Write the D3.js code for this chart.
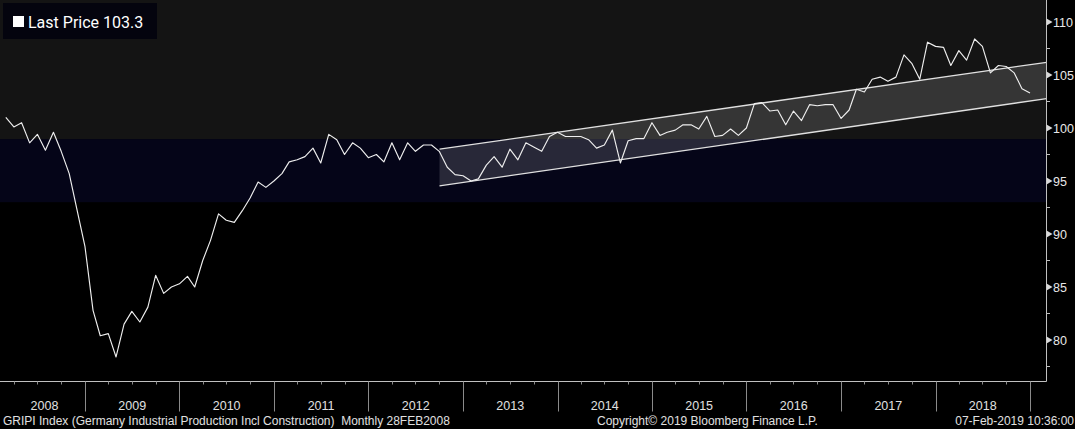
<!DOCTYPE html>
<html>
<head>
<meta charset="utf-8">
<script src="https://cdn.jsdelivr.net/npm/d3@7"></script>
<style>
  html, body { margin: 0; padding: 0; background: #000; overflow: hidden; }
  svg { display: block; }
</style>
</head>
<body>
<svg id="chart" width="1075" height="429"></svg>
<script>
// ---------------- DATA ----------------
const seriesName = "Last Price";
const lastPrice = 103.3;
const firstPeriodEnd = "2008-03-01"; // end of Feb 2008 (monthly points at month end)
const values2008 = [101.0, 100.1, 100.5, 98.6, 99.4, 97.9, 99.6, 97.8, 95.7, 92.3, 88.8];
const values2009 = [82.8, 80.4, 80.6, 78.4, 81.5, 82.7, 81.7, 83.1, 86.1, 84.4, 85.0, 85.3];
const values2010 = [86.0, 85.0, 87.5, 89.4, 91.9, 91.3, 91.1, 92.2, 93.4, 94.9, 94.4, 95.0];
const values2011 = [95.7, 96.8, 97.0, 97.3, 98.1, 96.7, 99.4, 98.9, 97.5, 98.6, 98.1, 97.2];
const values2012 = [97.5, 96.8, 98.6, 97.0, 98.6, 97.8, 98.4, 98.4, 97.8, 96.3, 95.6, 95.5];
const values2013 = [95.0, 95.2, 96.5, 97.3, 96.3, 98.0, 97.0, 98.6, 98.2, 97.8, 99.2, 99.6];
const values2014 = [99.2, 99.2, 99.2, 98.9, 98.1, 98.4, 99.8, 96.7, 98.8, 99.0, 99.0, 100.5];
const values2015 = [99.3, 99.6, 99.8, 100.3, 100.3, 99.9, 101.1, 99.2, 99.3, 99.9, 99.3, 100.0];
const values2016 = [102.3, 102.4, 101.6, 101.7, 100.3, 101.6, 100.7, 102.2, 102.1, 102.2, 102.2, 100.9];
const values2017 = [101.7, 103.65, 103.4, 104.6, 104.8, 104.4, 104.8, 106.9, 106.1, 104.6, 108.1, 107.7];
const values2018 = [107.6, 105.9, 107.3, 106.4, 108.4, 107.7, 105.2, 105.9, 105.8, 105.2, 103.7, 103.3];

const channelDates = ["2012-10-02", "2019-03-06"];
const channelUpper = [98.0, 106.2];
const channelLower = [94.55, 102.77];

const bandValues = [93.0, 98.95];           // shaded navy band
const yMajorTicks = [80, 85, 90, 95, 100, 105, 110];
const yMinorTicks = [77.5, 82.5, 87.5, 92.5, 97.5, 102.5, 107.5];
const yearLabels = ["2008", "2009", "2010", "2011", "2012", "2013", "2014", "2015", "2016", "2017", "2018"];

const footerLeft = "GRIPI Index (Germany Industrial Production Incl Construction)  Monthly 28FEB2008";
const footerMid = "Copyright\u00A9 2019 Bloomberg Finance L.P.";
const footerRight = "07-Feb-2019 10:36:00";

// ---------------- SETUP ----------------
const W = 1075, H = 429;
const plotL = 0, plotR = 1046.5, plotT = 0, plotB = 381.5;
const parse = d3.timeParse("%Y-%m-%d");

const values = [].concat(values2008, values2009, values2010, values2011, values2012,
  values2013, values2014, values2015, values2016, values2017, values2018);
const start = parse(firstPeriodEnd);
const data = values.map((v, i) => ({ date: d3.timeMonth.offset(start, i), value: v }));

const x = d3.scaleTime()
  .domain([new Date(2009, 0, 1), new Date(2019, 0, 1)])
  .range([85, 1030]);
const y = d3.scaleLinear().domain([80, 110]).range([340, 22]);

const svg = d3.select("#chart");
const font = "'Liberation Sans', Arial, sans-serif";

// background
svg.append("rect").attr("x", 0).attr("y", 0).attr("width", W).attr("height", H).attr("fill", "#000");
svg.append("rect").attr("x", plotL).attr("y", plotT)
  .attr("width", plotR - plotL).attr("height", y(bandValues[1]) - plotT).attr("fill", "#141414");
svg.append("rect").attr("x", plotL).attr("y", y(bandValues[1]))
  .attr("width", plotR - plotL).attr("height", y(bandValues[0]) - y(bandValues[1])).attr("fill", "#050518");

svg.append("defs").append("clipPath").attr("id", "clip")
  .append("rect").attr("x", plotL).attr("y", plotT)
  .attr("width", plotR - plotL).attr("height", plotB - plotT);

const g = svg.append("g").attr("clip-path", "url(#clip)");

// channel
const chan = channelDates.map((d, i) => ({ date: parse(d), up: channelUpper[i], lo: channelLower[i] }));
g.append("path").datum(chan)
  .attr("d", d3.area().x(d => x(d.date)).y0(d => y(d.lo)).y1(d => y(d.up)))
  .attr("fill", "rgba(255,255,255,0.14)");
g.append("path").datum(chan)
  .attr("d", d3.line().x(d => x(d.date)).y(d => y(d.up)))
  .attr("fill", "none").attr("stroke", "#e0e0e0").attr("stroke-width", 1.3);
g.append("path").datum(chan)
  .attr("d", d3.line().x(d => x(d.date)).y(d => y(d.lo)))
  .attr("fill", "none").attr("stroke", "#e0e0e0").attr("stroke-width", 1.3);

// price line
g.append("path").datum(data)
  .attr("d", d3.line().x(d => x(d.date)).y(d => y(d.value)))
  .attr("fill", "none").attr("stroke", "#eeeeee").attr("stroke-width", 1.15)
  .attr("stroke-linejoin", "round");

// axes lines
const axisColor = "#c0c0c0";
svg.append("line").attr("x1", plotL).attr("x2", plotR).attr("y1", plotB).attr("y2", plotB)
  .attr("stroke", axisColor).attr("stroke-width", 1);
svg.append("line").attr("x1", plotR).attr("x2", plotR).attr("y1", 0).attr("y2", plotB)
  .attr("stroke", axisColor).attr("stroke-width", 1);

// y axis ticks (right)
yMajorTicks.forEach(t => {
  const yy = y(t);
  svg.append("path")
    .attr("d", `M${plotR},${yy - 3.5}L${plotR + 6},${yy}L${plotR},${yy + 3.5}Z`)
    .attr("fill", "#d8d8d8");
  svg.append("text").attr("x", plotR + 6.5).attr("y", yy + 4.5)
    .attr("fill", "#e8e8e8").attr("font-family", font).attr("font-size", 12.5)
    .text(t);
});
yMinorTicks.forEach(t => {
  svg.append("line").attr("x1", plotR).attr("x2", plotR + 3.5).attr("y1", y(t)).attr("y2", y(t))
    .attr("stroke", axisColor).attr("stroke-width", 1);
});

// x axis: year separators, quarter ticks, labels
const years = yearLabels.map(s => +s);
years.concat([years[years.length - 1] + 1]).forEach(yr => {
  const xx = Math.round(x(new Date(yr, 0, 1))) + 0.5;
  if (xx > plotL && xx < plotR) {
    svg.append("line").attr("x1", xx).attr("x2", xx).attr("y1", plotB).attr("y2", plotB + 30)
      .attr("stroke", "#8a8a8a").attr("stroke-width", 1);
  }
  [3, 6, 9].forEach(m => {
    const qx = Math.round(x(new Date(yr, m, 1))) + 0.5;
    if (qx > plotL && qx < plotR) {
      svg.append("line").attr("x1", qx).attr("x2", qx).attr("y1", plotB).attr("y2", plotB + 3)
        .attr("stroke", "#8a8a8a").attr("stroke-width", 1);
    }
  });
});
yearLabels.forEach(lbl => {
  const yr = +lbl;
  const a = Math.max(plotL, x(new Date(yr, 0, 1)));
  const b = Math.min(plotR, x(new Date(yr + 1, 0, 1)));
  svg.append("text").attr("x", (a + b) / 2 + (yr === 2008 ? 2 : 0)).attr("y", 409.5)
    .attr("text-anchor", "middle").attr("fill", "#e0e0e0")
    .attr("font-family", font).attr("font-size", 12.5).text(lbl);
});

// footer
svg.append("text").attr("x", 3).attr("y", 425).attr("fill", "#e0e0e0")
  .attr("font-family", font).attr("font-size", 12).attr("xml:space", "preserve")
  .style("white-space", "pre").text(footerLeft);
svg.append("text").attr("x", 597).attr("y", 425).attr("fill", "#e0e0e0")
  .attr("font-family", font).attr("font-size", 12).text(footerMid);
svg.append("text").attr("x", 1074).attr("y", 425).attr("text-anchor", "end").attr("fill", "#e0e0e0")
  .attr("font-family", font).attr("font-size", 12).text(footerRight);

// legend
const lg = svg.append("g");
lg.append("rect").attr("x", 3).attr("y", 3).attr("width", 154).attr("height", 36).attr("fill", "#04040e");
lg.append("rect").attr("x", 13).attr("y", 16).attr("width", 11).attr("height", 11).attr("fill", "#ffffff");
lg.append("text").attr("x", 28).attr("y", 28).attr("fill", "#ffffff")
  .attr("font-family", "Roboto, 'Liberation Sans', sans-serif").attr("font-size", 16)
  .text(`${seriesName} ${lastPrice}`);
</script>
</body>
</html>
